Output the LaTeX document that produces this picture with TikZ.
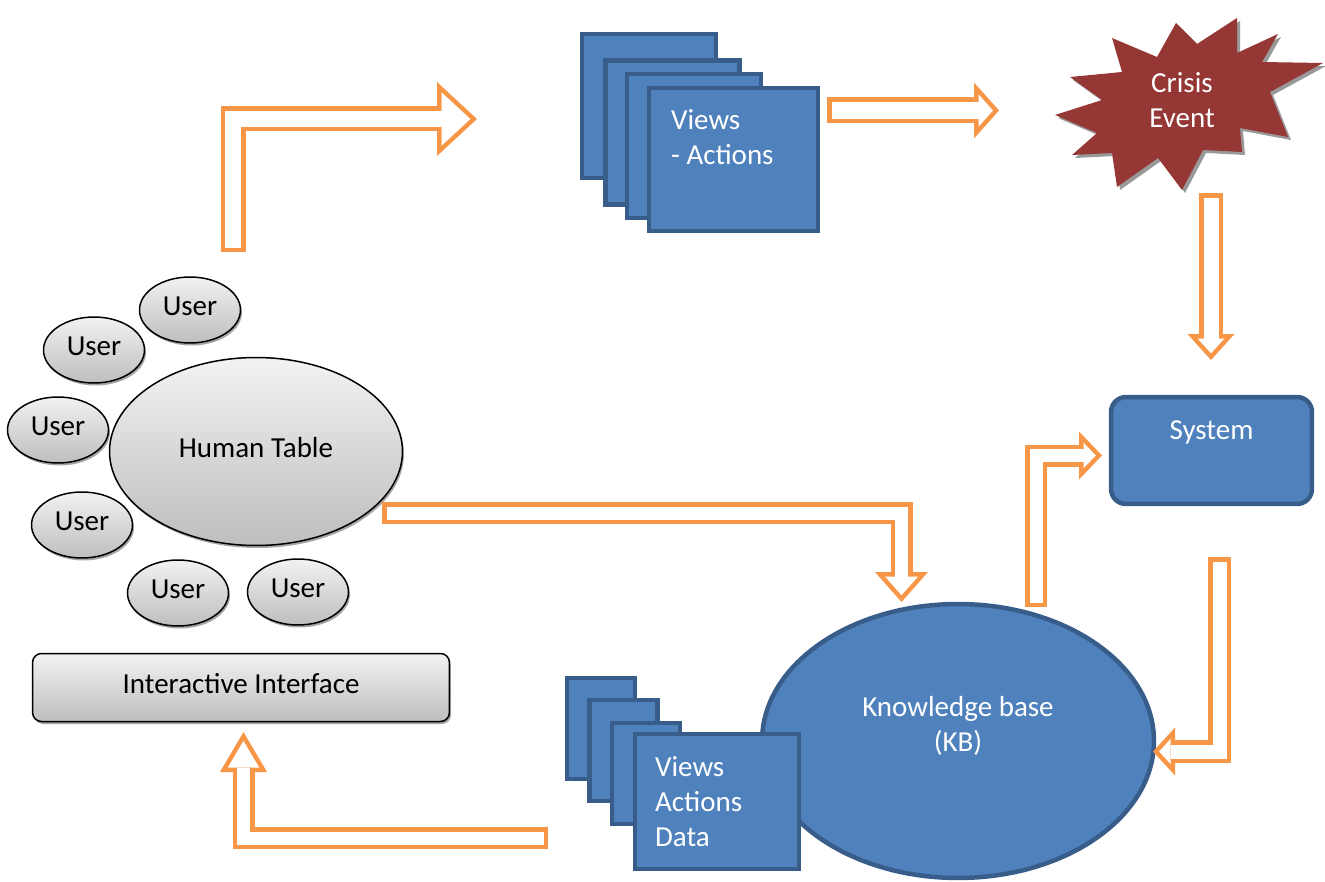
\documentclass[tikz,border=0pt]{standalone}
\usepackage{fontspec}
\setmainfont{Carlito}
\usepackage{tikz}
\usetikzlibrary{positioning,shapes.geometric,shadows,arrows.meta}
\definecolor{OfficeBlue}{HTML}{4F81BD}
\definecolor{OfficeBlueLine}{HTML}{385D8A}
\definecolor{OfficeOrange}{HTML}{F79646}
\definecolor{CrisisRed}{HTML}{953735}
\definecolor{TableTop}{HTML}{F2F2F2}
\definecolor{TableBottom}{HTML}{BEBEBE}

% hollow block arrow: shaft/head width/head length (px)
\tikzset{
  hollow/.code args={#1/#2/#3}{%
    \pgfmathsetmacro\hb{4.5}%
    \pgfmathsetmacro\hsin{(#2/2)/sqrt((#2/2)^2+(#3)^2)}%
    \pgfmathsetmacro\hret{\hb/\hsin}%
    \pgfmathsetmacro\hil{#3-\hb-\hret}%
    \pgfmathsetmacro\hiw{\hil*#2/#3}%
    \pgfmathsetlengthmacro\Lout{#1*0.02cm}%
    \pgfmathsetlengthmacro\Lin{(#1-2*\hb)*0.02cm}%
    \pgfmathsetlengthmacro\Wout{#2*0.02cm}%
    \pgfmathsetlengthmacro\Hout{#3*0.02cm}%
    \pgfmathsetlengthmacro\Win{\hiw*0.02cm}%
    \pgfmathsetlengthmacro\Hin{\hil*0.02cm}%
    \pgfmathsetlengthmacro\Bw{\hb*0.02cm}%
    \pgfmathsetlengthmacro\Ret{\hret*0.02cm}%
    \edef\hollowtmp{\noexpand\pgfkeysalso{draw=OfficeOrange, line width=\Lout,
      -{Triangle[width=\Wout,length=\Hout,line width=0pt]},
      postaction={draw=white, line width=\Lin, shorten <=\Bw, shorten >=\Ret,
      -{Triangle[width=\Win,length=\Hin,line width=0pt]}}}}%
    \hollowtmp
  }
}

\begin{document}
\begin{tikzpicture}[
    x=0.02cm, y=-0.02cm,
    every node/.style={font=\fontsize{16.5}{20}\selectfont},
    softshadow/.style={drop shadow={shadow xshift=0.03cm, shadow yshift=-0.05cm, opacity=0.35, fill=black}},
    grey/.style={draw=black, line width=0.03cm, top color=TableTop, bottom color=TableBottom, softshadow, text depth=0.17cm},
    user/.style={grey, ellipse, inner sep=0pt, minimum width=2.02cm, minimum height=1.32cm},
    page/.style={draw=OfficeBlueLine, fill=OfficeBlue, line width=0.09cm, inner sep=0pt},
    lbl/.style={text=white, align=left, inner sep=0pt}
  ]
  \useasboundingbox (0,0) rectangle (1325,882);

  % human table and users
  \node[grey, ellipse, inner sep=0pt, minimum width=5.86cm, minimum height=3.76cm] (table) at (256,451.5) {Human Table};
  \node[user] (u1) at (190,310) {User};
  \node[user] (u2) at (94,350) {User};
  \node[user] (u3) at (58,430) {User};
  \node[user] (u4) at (82,525) {User};
  \node[user] (u5) at (178,593) {User};
  \node[user] (u6) at (298,592) {User};
  \node[grey, rounded corners=0.18cm, minimum width=8.34cm, minimum height=1.36cm] (ui) at (241,687.5) {Interactive Interface};

  % views - actions (top)
  \node[page, minimum width=2.68cm, minimum height=2.88cm] (vt1) at (649,106) {};
  \node[page, minimum width=2.68cm, minimum height=2.88cm] (vt2) at (672.5,132.5) {};
  \node[page, minimum width=2.68cm, minimum height=2.88cm] (vt3) at (694,146) {};
  \node[page, minimum width=3.38cm, minimum height=2.86cm] (vt4) at (733.5,159.5) {};
  \node[lbl, below right=0.46cm and 0.48cm of vt4.north west] {Views\\- Actions};

  % crisis event
  \fill[CrisisRed, drop shadow={shadow xshift=0.06cm, shadow yshift=-0.06cm, opacity=0.4, fill=black}]
    (1237,18) -- (1237,53) -- (1278,34) -- (1262,62) -- (1323,63) -- (1270,92)
    -- (1288,137) -- (1240,128) -- (1242,152) -- (1203,150) -- (1182,190)
    -- (1158,158) -- (1117,187) -- (1112,153) -- (1072,155) -- (1097,133)
    -- (1055,115) -- (1102,100) -- (1070,77) -- (1122,72) -- (1112,38)
    -- (1157,57) -- (1176,23) -- (1197,44) -- cycle;
  \node[text=white, align=center] (crisis) at (1182,100) {Crisis\\Event};

  % system
  \node[page, rounded corners=0.3cm, minimum width=4.02cm, minimum height=2.14cm] (sys) at (1211.5,450.5) {};
  \node[lbl, below=0.52cm of sys.north] {System};

  % knowledge base
  \node[page, ellipse, minimum width=7.84cm, minimum height=5.48cm] (kb) at (958,741) {};
  \node[lbl, align=center] at ([yshift=0.3cm]kb.center) {Knowledge base\\(KB)};

  % views actions data (bottom)
  \node[page, minimum width=1.36cm, minimum height=2.02cm] (vb1) at (601,728.5) {};
  \node[page, minimum width=1.36cm, minimum height=2.02cm] (vb2) at (623.5,750.5) {};
  \node[page, minimum width=1.36cm, minimum height=2.02cm] (vb3) at (646,773.5) {};
  \node[page, minimum width=3.28cm, minimum height=2.7cm] (vb4) at (717,801.5) {};
  \node[lbl, below right=0.48cm and 0.44cm of vb4.north west] {Views\\Actions\\Data};

  % arrow ends
  \coordinate (a1s) at (233,252);    \coordinate (a1e) at (477,119);
  \coordinate (a2s) at (827,110.5);  \coordinate (a2e) at (999,110.5);
  \coordinate (a3s) at (1211,193);   \coordinate (a3e) at (1211,360);
  \coordinate (a4s) at (382,513);    \coordinate (a4e) at (901.5,602);
  \coordinate (a5s) at (1036,607);   \coordinate (a5e) at (1102,455.5);
  \coordinate (a6s) at (1219.5,557); \coordinate (a6e) at (1153,751.5);
  \coordinate (a7s) at (548,838);    \coordinate (a7e) at (243.5,732);

  \draw[hollow=25/74/40] (a1s) |- (a1e);
  \draw[hollow=26/56/25] (a2s) -- (a2e);
  \draw[hollow=24/47/26] (a3s) -- (a3e);
  \draw[hollow=22/53/30] (a4s) -| (a4e);
  \draw[hollow=22/48/23] (a5s) |- (a5e);
  \draw[hollow=23/48/22] (a6s) |- (a6e);
  \draw[hollow=22/47/40] (a7s) -| (a7e);
\end{tikzpicture}
\end{document}
